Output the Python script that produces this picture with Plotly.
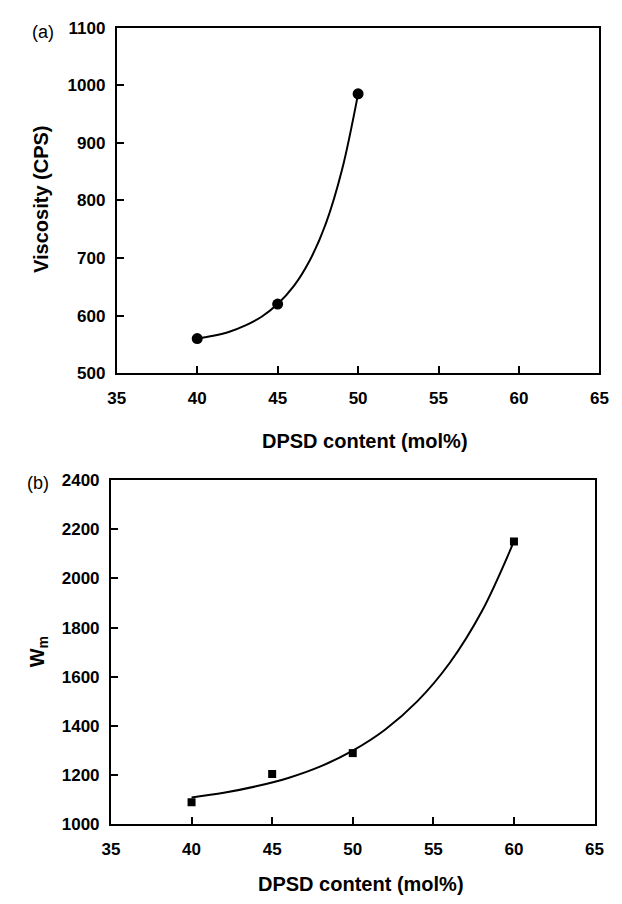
import plotly.graph_objects as go

# ---- data ----
# (a) viscosity
visc_x = [40, 45, 50]
visc_y = [560, 620, 985]
visc_fit_x = [40, 41, 42, 43, 44, 45, 46, 47, 48, 49, 50]
visc_fit_y = [560, 565, 572, 583, 598, 620, 651, 696, 760, 853, 985]

# (b) Wm
wm_x = [40, 45, 50, 60]
wm_y = [1090, 1205, 1290, 2150]
wm_fit_x = [40, 42, 44, 46, 48, 50, 52, 54, 56, 58, 60]
wm_fit_y = [1110, 1129, 1155, 1189, 1236, 1300, 1385, 1500, 1655, 1865, 2150]

x_ticks = [35, 40, 45, 50, 55, 60, 65]
visc_ticks = [500, 600, 700, 800, 900, 1000, 1100]
wm_ticks = [1000, 1200, 1400, 1600, 1800, 2000, 2200, 2400]

W, H = 622, 904
FONT = "Liberation Sans, Arial, Helvetica, sans-serif"

fig = go.Figure()

fig.add_trace(go.Scatter(x=visc_fit_x, y=visc_fit_y, mode="lines",
                         line=dict(color="black", width=2, shape="spline"),
                         xaxis="x", yaxis="y", showlegend=False, hoverinfo="skip"))
fig.add_trace(go.Scatter(x=visc_x, y=visc_y, mode="markers",
                         marker=dict(symbol="circle", size=11, color="black"),
                         xaxis="x", yaxis="y", showlegend=False))

fig.add_trace(go.Scatter(x=wm_fit_x, y=wm_fit_y, mode="lines",
                         line=dict(color="black", width=2, shape="spline"),
                         xaxis="x2", yaxis="y2", showlegend=False, hoverinfo="skip"))
fig.add_trace(go.Scatter(x=wm_x, y=wm_y, mode="markers",
                         marker=dict(symbol="square", size=8, color="black"),
                         xaxis="x2", yaxis="y2", showlegend=False))

tickfont = dict(family=FONT, size=17, color="black", weight="bold")
common = dict(showline=True, linecolor="black", linewidth=2, mirror=True,
              ticks="inside", ticklen=7, tickwidth=1.5, tickcolor="black",
              showgrid=False, zeroline=False, tickfont=tickfont)

fig.update_layout(
    width=W, height=H,
    margin=dict(l=0, r=0, t=0, b=0),
    paper_bgcolor="white", plot_bgcolor="white",
    xaxis=dict(domain=[111 / W, 608 / W], range=[35, 65], tickvals=x_ticks,
               anchor="y", ticklabelstandoff=8, **common),
    yaxis=dict(domain=[(H - 372) / H, (H - 19) / H], range=[500, 1100],
               tickvals=visc_ticks, anchor="x", ticklabelstandoff=6, **common),
    xaxis2=dict(domain=[105 / W, 603 / W], range=[35, 65], tickvals=x_ticks,
                anchor="y2", ticklabelstandoff=8, **common),
    yaxis2=dict(domain=[(H - 833) / H, (H - 481) / H], range=[1000, 2400],
                tickvals=wm_ticks, anchor="x2", ticklabelstandoff=6, **common),
)

title_font = dict(family=FONT, size=20, color="black", weight="bold")
ann = [
    dict(text="DPSD content (mol%)", x=367 / W, y=(H - 441) / H, font=title_font),
    dict(text="DPSD content (mol%)", x=362 / W, y=(H - 894) / H, font=title_font),
    dict(text="Viscosity (CPS)", x=33 / W, y=(H - 195) / H, font=title_font, textangle=-90),
    dict(text="W<sub>m</sub>", x=30 / W, y=(H - 657) / H, font=title_font, textangle=-90),
    dict(text="(a)", x=35 / W, y=(H - 24) / H, font=dict(family=FONT, size=18, color="black")),
    dict(text="(b)", x=30 / W, y=(H - 484) / H, font=dict(family=FONT, size=18, color="black")),
]
for a in ann:
    a.update(xref="paper", yref="paper", showarrow=False, xanchor="center", yanchor="middle")
fig.update_layout(annotations=ann)

fig.write_html("out.html")
